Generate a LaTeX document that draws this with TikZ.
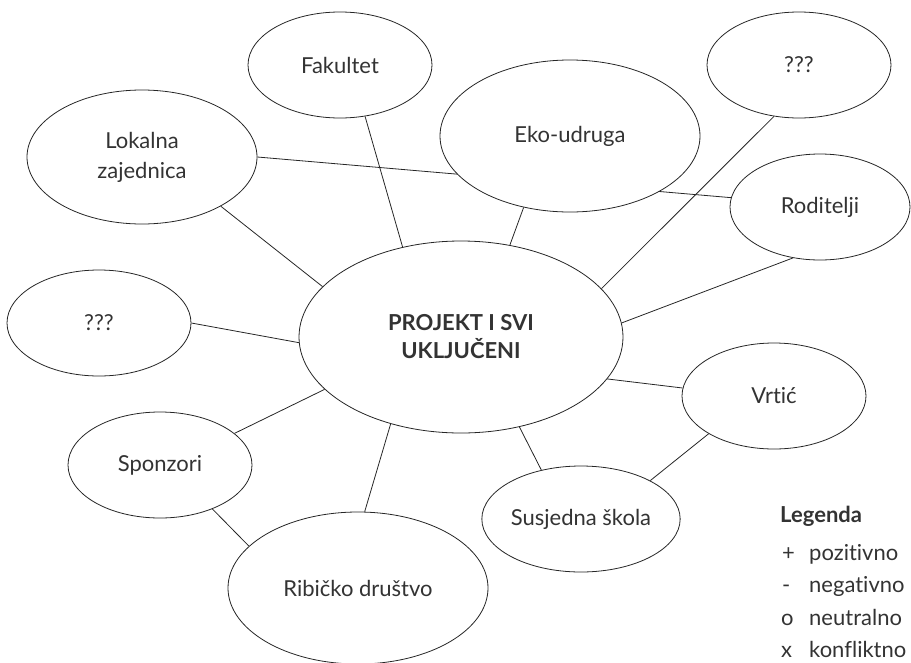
\documentclass[tikz,border=0pt]{standalone}
\usepackage{fontspec}
\setmainfont{Lato}[Ligatures={NoCommon}]
\usetikzlibrary{shapes.geometric,backgrounds}
\begin{document}
\begin{tikzpicture}[x=1pt,y=-1pt,
  bub/.style={ellipse,draw=black!85,line width=0.8pt,fill=white,inner sep=0pt,
    text=black!80,font=\fontsize{22}{30}\selectfont,align=center},
  small/.style={bub,minimum width=184pt,minimum height=106pt},
  big/.style={bub,minimum width=260pt,minimum height=152pt},
  link/.style={draw=black!85,line width=0.8pt},
  leg/.style={anchor=base west,inner sep=0pt,text=black!80,font=\fontsize{22}{28}\selectfont}]
\useasboundingbox (0,0) rectangle (911,662);
\node[bub,minimum width=324pt,minimum height=192pt,font=\bfseries\fontsize{22}{28}\selectfont] (cen) at (461,337) {PROJEKT I SVI\\UKLJUČENI};
\node[small] (fak) at (340,65) {Fakultet};
\node[small] (qtr) at (799,65) {???};
\node[big] (eko) at (570,136) {Eko-udruga};
\node[bub,minimum width=230pt,minimum height=134pt] (lok) at (142,157) {Lokalna\\zajednica};
\node[bub,minimum width=180pt,minimum height=106pt] (rod) at (820,207) {Roditelji};
\node[small] (qle) at (99,323) {???};
\node[small] (spo) at (160,465) {Sponzori};
\node[big] (rib) at (358,588) {Ribičko društvo};
\node[small] (sus) at (581,519) {Susjedna škola};
\node[small] (vrt) at (774,396) {Vrtić};
\begin{scope}[on background layer]
\draw[link] (fak.-64.3) -- (cen.123.1);
\draw[link] (eko.-123.5) -- (cen.62.7);
\draw[link] (qtr.-116.6) -- (cen.19.8);
\draw[link] (rod.-118.4) -- (cen.5.3);
\draw[link] (vrt.175) -- (cen.-16);
\draw[link] (sus.129.7) -- (cen.-57.7);
\draw[link] (vrt.-150.1) -- (sus.29.3);
\draw[link] (rib.85.5) -- (cen.-129.1);
\draw[link] (spo.23.7) -- (cen.-159.9);
\draw[link] (spo.-40.3) -- (rib.159.6);
\draw[link] (qle.-0.6) -- (cen.-178.6);
\draw[link] (lok.-32.7) -- (cen.160.5);
\draw[link] (lok.-0.5) -- (rod.174.9);
\end{scope}
\node[leg,font=\bfseries\fontsize{22}{28}\selectfont] (lgt) at (780,522) {Legenda};
\node[leg] (s1) at (782,560) {+};
\node[leg] (t1) at (809,560) {pozitivno};
\node[leg] (s2) at (782,592) {-};
\node[leg] (t2) at (809,592) {negativno};
\node[leg] (s3) at (781,625) {o};
\node[leg] (t3) at (809,625) {neutralno};
\node[leg] (s4) at (781,657) {x};
\node[leg] (t4) at (809,657) {konfliktno};
\end{tikzpicture}
\end{document}
